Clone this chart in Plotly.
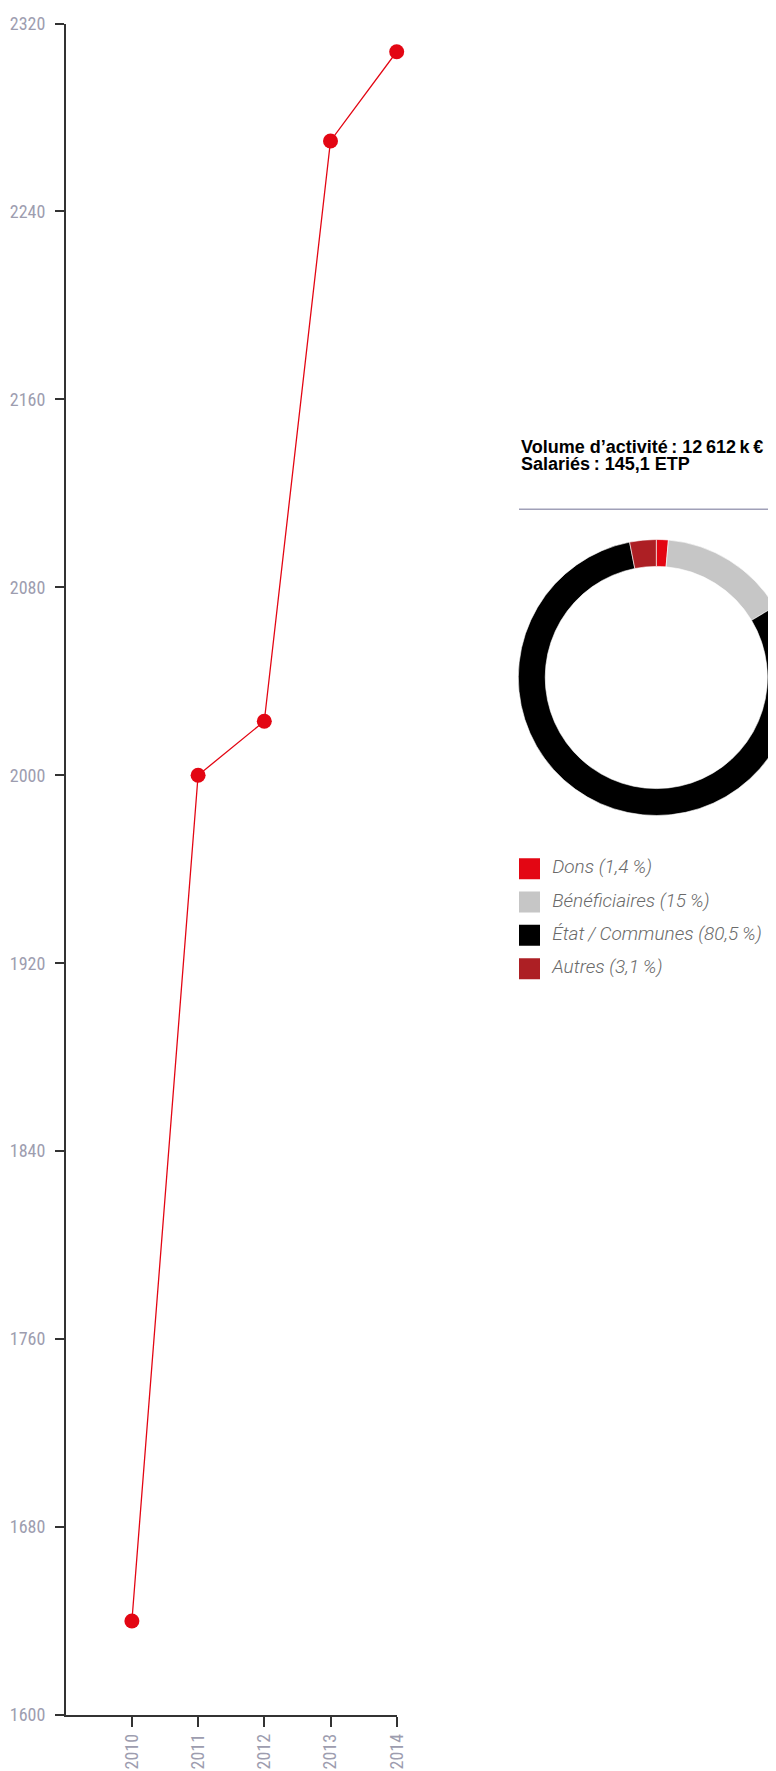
import plotly.graph_objects as go

# salariés par année
years = [2010, 2011, 2012, 2013, 2014]
salaries = [1640, 2000, 2023, 2270, 2308]
y_ticks = [1600, 1680, 1760, 1840, 1920, 2000, 2080, 2160, 2240, 2320]

# répartition du volume d'activité
labels = ['Dons', 'Bénéficiaires', 'État\u2009/\u2009Communes', 'Autres']
shares = [1.4, 15, 80.5, 3.1]
share_text = ['1,4', '15', '80,5', '3,1']
title_lines = ['Volume d’activité\u2009: 12\u2009612\u2009k\u2009€', 'Salariés\u2009: 145,1 ETP']

colors = ['#e30613', '#c6c6c6', '#000000', '#ad1f24']
red = '#e30613'
axis_col = '#333333'
tick_font = dict(family='Liberation Sans Narrow, Roboto Condensed, Arial Narrow, sans-serif', size=18, color='#9d9daf')

# the page body has an 8px margin, so work in page pixels and shift
OFF = 8
W, H = 800, 1763  # wider than the window so the donut gets cut on the right
px_x = lambda x: (x - OFF) / W
px_y = lambda y: (H - (y - OFF)) / H

fig = go.Figure()

## line chart
fig.add_trace(go.Scatter(x=years, y=salaries, mode='lines+markers', cliponaxis=False,
                         line=dict(color=red, width=1.3), marker=dict(color=red, size=15),
                         showlegend=False, hoverinfo='x+y'))

## donut
fig.add_trace(go.Pie(labels=labels, values=shares, sort=False, direction='clockwise', rotation=0,
                     hole=0.805, textinfo='none', showlegend=False,
                     marker=dict(colors=colors, line=dict(color='white', width=0.6)),
                     domain=dict(x=[px_x(518.3), px_x(794.3)], y=[px_y(815.5), px_y(539.5)])))

## legend drawn as squares + italic text
legend_text = ['%s (%s\u2009%%)' % (l, s) for l, s in zip(labels, share_text)]
fig.add_trace(go.Scatter(x=[0] * len(labels), y=list(range(len(labels))), mode='markers',
                         marker=dict(symbol='square', size=21, color=colors),
                         xaxis='x2', yaxis='y2', showlegend=False, hoverinfo='skip'))
fig.add_trace(go.Scatter(x=[22.7] * len(labels), y=list(range(len(labels))), mode='text',
                         text=legend_text, textposition='middle right',
                         textfont=dict(family='Roboto, Liberation Sans, sans-serif', size=19,
                                       color='#6a6a6a', style='italic', weight=300),
                         xaxis='x2', yaxis='y2', showlegend=False, hoverinfo='skip'))

axis_style = dict(showline=True, linecolor=axis_col, linewidth=1.5, ticks='outside', tickcolor=axis_col,
                  tickwidth=1.5, showgrid=False, zeroline=False, tickfont=tick_font, automargin=False)

fig.update_layout(
    width=W, height=H, margin=dict(l=0, r=0, t=0, b=0),
    paper_bgcolor='white', plot_bgcolor='white',
    xaxis=dict(domain=[px_x(65.7), px_x(396.7)], range=[2009, 2014], tickvals=years,
               ticktext=[str(y) for y in years], tickangle=-90, ticklen=10, ticklabelstandoff=0,
               **axis_style),
    yaxis=dict(domain=[px_y(1715), px_y(23.5)], range=[1600, 2320], tickvals=y_ticks,
               ticklen=9, ticklabelstandoff=6, **axis_style),
    xaxis2=dict(domain=[px_x(519), px_x(776)], range=[-10.5, 246.5], visible=False, anchor='y2'),
    yaxis2=dict(domain=[px_y(985.3), px_y(852)], range=[3.5, -0.5], visible=False, anchor='x2'),
    shapes=[dict(type='line', xref='paper', yref='paper', x0=px_x(519), x1=1,
                 y0=px_y(509.3), y1=px_y(509.3), line=dict(color='#a0a0b8', width=1.5))],
)

# titre au-dessus du donut
for i, txt in enumerate(title_lines):
    fig.add_annotation(x=px_x(519), y=px_y(446.5 + 17.7 * i), xref='paper', yref='paper',
                       xanchor='left', yanchor='middle', showarrow=False, text='<b>%s</b>' % txt,
                       font=dict(family='Liberation Sans, Arial, sans-serif', size=18, color='black'))

fig.write_html('out.html')
